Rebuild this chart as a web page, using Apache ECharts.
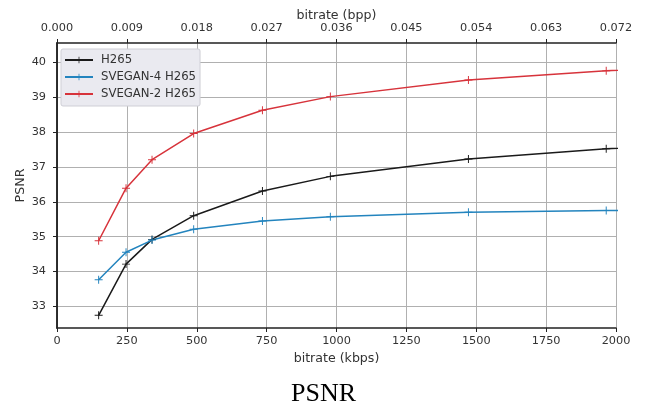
<!DOCTYPE html>
<html>
<head>
<meta charset="utf-8">
<script src="https://cdn.jsdelivr.net/npm/echarts@6/dist/echarts.min.js"></script>
<style>
  html, body { margin: 0; padding: 0; background: #fff; }
  #chart { width: 647px; height: 406px; }
</style>
</head>
<body>
<div id="chart"></div>
<script>
// bitrate in kbps (last point lies past the axis and is clipped)
var kbps = [149, 247, 340, 489, 735, 978, 1472, 1965, 2450];
var h265 = [32.74, 34.21, 34.92, 35.60, 36.31, 36.73, 37.23, 37.52, 37.75];
var svegan4 = [33.76, 34.55, 34.90, 35.21, 35.45, 35.57, 35.70, 35.75, 35.78];
var svegan2 = [34.88, 36.39, 37.21, 37.96, 38.63, 39.02, 39.50, 39.76, 39.95];
var psnrTicks = [33, 34, 35, 36, 37, 38, 39, 40];

var myChart = echarts.init(document.getElementById('chart'));
var plus = 'path://M4.4,0 L5.6,0 L5.6,4.4 L10,4.4 L10,5.6 L5.6,5.6 L5.6,10 L4.4,10 L4.4,5.6 L0,5.6 L0,4.4 L4.4,4.4 Z';
var font = 'DejaVu Sans';
var frame = { show: true, lineStyle: { color: '#222', width: 1.5 } };
var tickFont = { fontFamily: font, fontSize: 11.3, color: '#333' };
var nameFont = { fontFamily: font, fontSize: 12.6, color: '#333' };

function pairs(ys) {
	var out = [];
	for (var i = 0; i < ys.length; i++) {
		out.push([kbps[i], ys[i]]);
	}
	return out;
}

function makeSeries(name, color, ys) {
	return {
		name: name,
		type: 'line',
		xAxisIndex: 0,
		yAxisIndex: 0,
		data: pairs(ys),
		symbol: plus,
		symbolSize: 8,
		showSymbol: true,
		clip: true,
		lineStyle: { color: color, width: 1.5 },
		itemStyle: { color: color },
		animation: false
	};
}

var option = {
	backgroundColor: '#fff',
	animation: false,
	title: {
		text: 'PSNR',
		left: 'center',
		top: 376,
		textStyle: { fontFamily: 'Liberation Serif', fontSize: 26, fontWeight: 'normal', color: '#000' }
	},
	grid: { left: 57, right: 31, top: 43, bottom: 78, outerBoundsMode: 'none' },
	legend: {
		orient: 'vertical',
		left: 61,
		top: 49,
		padding: [5, 4, 6, 3],
		itemGap: 5,
		itemWidth: 28,
		itemHeight: 8,
		backgroundColor: '#eaeaf0',
		borderColor: '#cfcfd6',
		borderWidth: 1,
		borderRadius: 2,
		textStyle: { fontFamily: font, fontSize: 11.7, color: '#333', padding: [0, 0, 0, 3] },
		data: ['H265', 'SVEGAN-4 H265', 'SVEGAN-2 H265']
	},
	xAxis: [{
		type: 'value',
		position: 'bottom',
		min: 0,
		max: 2000,
		interval: 250,
		name: 'bitrate (kbps)',
		nameLocation: 'middle',
		nameGap: 24,
		nameMoveOverlap: false,
		nameTextStyle: nameFont,
		axisLine: frame,
		axisTick: { show: true, inside: false, length: 4, lineStyle: { color: '#222' } },
		axisLabel: Object.assign({ margin: 8, formatter: function(v) { return String(v); } }, tickFont),
		splitLine: { show: true, lineStyle: { color: '#b0b0b0', width: 1 } }
	}, {
		type: 'value',
		position: 'top',
		min: 0,
		max: 0.072,
		interval: 0.009,
		name: 'bitrate (bpp)',
		nameLocation: 'middle',
		nameGap: 21,
		nameMoveOverlap: false,
		nameTextStyle: nameFont,
		axisLine: frame,
		axisTick: { show: true, inside: false, length: 4, lineStyle: { color: '#222' } },
		axisLabel: Object.assign({ margin: 9, formatter: function(v) { return v.toFixed(3); } }, tickFont),
		splitLine: { show: false }
	}],
	yAxis: [{
		type: 'value',
		position: 'left',
		min: 32.375,
		max: 40.56,
		name: 'PSNR',
		nameLocation: 'middle',
		nameGap: 30,
		nameMoveOverlap: false,
		nameTextStyle: nameFont,
		axisLine: frame,
		axisTick: { show: true, inside: false, length: 4, customValues: psnrTicks, lineStyle: { color: '#222' } },
		axisLabel: Object.assign({ margin: 11, customValues: psnrTicks }, tickFont),
		splitLine: { show: true, lineStyle: { color: '#b0b0b0', width: 1 } }
	}, {
		type: 'value',
		position: 'right',
		min: 32.375,
		max: 40.56,
		axisLine: frame,
		axisTick: { show: false },
		axisLabel: { show: false },
		splitLine: { show: false }
	}],
	series: [
		makeSeries('H265', '#1a1a1a', h265),
		makeSeries('SVEGAN-4 H265', '#2384be', svegan4),
		makeSeries('SVEGAN-2 H265', '#d7333b', svegan2)
	]
};
myChart.setOption(option);
</script>
</body>
</html>
